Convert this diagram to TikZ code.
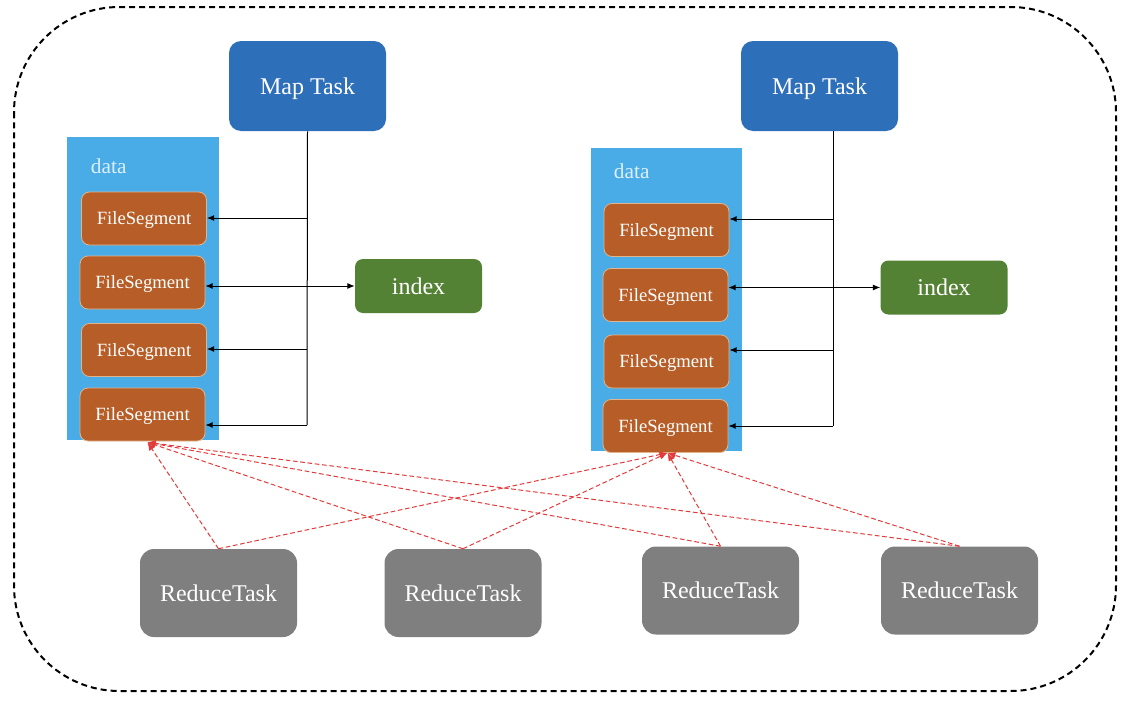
\documentclass[tikz,border=0pt]{standalone}
\usepackage{fontspec}
\setmainfont{Liberation Serif}
\usetikzlibrary{arrows.meta,calc}
\definecolor{mapblue}{HTML}{2E6FBA}
\definecolor{datablue}{HTML}{4AACE7}
\definecolor{segbrown}{HTML}{B75E28}
\definecolor{segborder}{HTML}{E2B48A}
\definecolor{idxgreen}{HTML}{548235}
\definecolor{redgray}{HTML}{7F7F7F}
\definecolor{redline}{HTML}{E23B3B}
\definecolor{datatext}{HTML}{DDEFFF}
\tikzset{
  maptask/.style={fill=mapblue, rounded corners=9pt, minimum width=117.75pt, minimum height=67.5pt, inner sep=0pt, text=white, font=\fontsize{18}{20}\selectfont, text depth=0pt},
  datablock/.style={fill=datablue, minimum width=114pt, minimum height=227.25pt, inner sep=0pt},
  datalbl/.style={text=datatext, font=\fontsize{16}{18}\selectfont, inner sep=0pt},
  fileseg/.style={fill=segbrown, draw=segborder, line width=0.6pt, rounded corners=6pt, minimum width=93.75pt, minimum height=39.75pt, inner sep=0pt, text=white, font=\fontsize{14}{16}\selectfont, text depth=0pt},
  indexbox/.style={fill=idxgreen, rounded corners=6pt, minimum width=95.25pt, minimum height=40.5pt, inner sep=0pt, text=white, font=\fontsize{18}{20}\selectfont},
  reducebox/.style={fill=redgray, rounded corners=10.5pt, minimum width=117.75pt, minimum height=66pt, inner sep=0pt, text=white, font=\fontsize{18}{20}\selectfont},
  wire/.style={draw=black, line width=0.75pt},
  wirearrow/.style={wire, -{Latex[length=5.5pt,width=4.5pt]}},
  wirebiarrow/.style={wire, {Latex[length=5.5pt,width=4.5pt]}-{Latex[length=5.5pt,width=4.5pt]}},
  redarrow/.style={draw=redline, line width=0.75pt, dash pattern=on 3.5pt off 2pt, -{Latex[length=6pt,width=5pt]}},
  frame/.style={draw=black, line width=1.5pt, dash pattern=on 4.5pt off 3pt, rounded corners=79pt}
}
\begin{document}
\begin{tikzpicture}[x=0.75pt,y=-0.75pt]
\useasboundingbox (0,0) rectangle (1128,703);
\draw[frame] (14,7) rectangle (1116,691);

% Map tasks
\node[maptask] (mapL) at (307.5,86) {Map Task};
\node[maptask] (mapR) at (819.5,86) {Map Task};

% data blocks
\node[datablock] (dataL) at (143,288.5) {};
\node[datablock, minimum width=113.25pt] (dataR) at (666.5,299.5) {};
\node[datalbl] (dlL) at ($(dataL.north west)+(42,29)$) {data};
\node[datalbl] (dlR) at ($(dataR.north west)+(41,23)$) {data};

% file segments left
\node[fileseg] (fsL1) at (144,218.5) {FileSegment};
\node[fileseg] (fsL2) at (142.5,282.5) {FileSegment};
\node[fileseg] (fsL3) at (144,350) {FileSegment};
\node[fileseg] (fsL4) at (142.5,414.5) {FileSegment};
% file segments right
\node[fileseg] (fsR1) at (666.5,230) {FileSegment};
\node[fileseg] (fsR2) at (665.5,295) {FileSegment};
\node[fileseg] (fsR3) at (666.5,361.5) {FileSegment};
\node[fileseg] (fsR4) at (665.5,426) {FileSegment};

% index
\node[indexbox] (idxL) at (418.5,286) {index};
\node[indexbox] (idxR) at (944,287.5) {index};

% reduce tasks
\node[reducebox] (rd1) at (218.5,593) {ReduceTask};
\node[reducebox] (rd2) at (463,593) {ReduceTask};
\node[reducebox] (rd3) at (720.5,590.5) {ReduceTask};
\node[reducebox] (rd4) at (959.5,590.5) {ReduceTask};

% left map connectors
\coordinate (aL1) at (307,218);
\coordinate (aL3) at (307,349);
\coordinate (bL) at (307,425);
\draw[wire] (mapL.south) -- (bL);
\draw[wirearrow] (aL1) -- (aL1 -| fsL1.east);
\draw[wirebiarrow] (fsL2.east |- idxL.west) -- (idxL.west);
\draw[wirearrow] (aL3) -- (aL3 -| fsL3.east);
\draw[wirearrow] (bL) -- (bL -| fsL4.east);

% right map connectors
\coordinate (tR0) at (833,131);
\coordinate (aR1) at (833,219);
\coordinate (aR3) at (833,350);
\coordinate (bR) at (833,426);
\draw[wire] (tR0) -- (bR);
\draw[wirearrow] (aR1) -- (aR1 -| fsR1.east);
\draw[wirebiarrow] (fsR2.east |- idxR.west) -- (idxR.west);
\draw[wirearrow] (aR3) -- (aR3 -| fsR3.east);
\draw[wirearrow] (bR) -- (bR -| fsR4.east);

% reduce fetch arrows
\coordinate (tL) at ($(fsL4.south)+(5,1)$);
\coordinate (tR) at ($(fsR4.south)+(2,0)$);
\foreach \r in {rd1,rd2,rd3,rd4}{
  \draw[redarrow] (\r.north) -- (tL);
  \draw[redarrow] (\r.north) -- (tR);
}
\end{tikzpicture}
\end{document}
